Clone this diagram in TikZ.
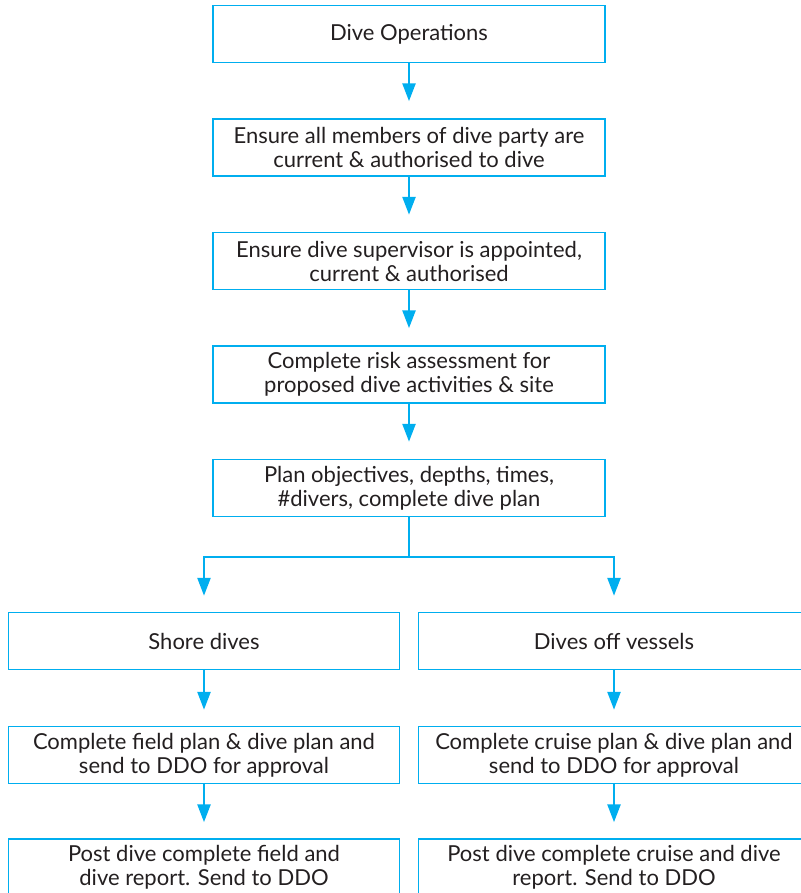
\documentclass[tikz,border=0pt]{standalone}
\usepackage{fontspec}
\setmainfont{Lato}
\usetikzlibrary{arrows.meta}
\definecolor{cyanline}{RGB}{0,174,239}
\definecolor{txt}{RGB}{35,31,32}
\tikzset{
  boxnode/.style={draw=cyanline, line width=1.5bp, rectangle, minimum height=57bp, inner sep=0pt,
    align=center, text=txt, font=\fontsize{22bp}{24bp}\selectfont},
  midbox/.style={boxnode, minimum width=392bp},
  colbox/.style={boxnode, minimum width=391bp},
  arr/.style={draw=cyanline, line width=2.6bp, -{Triangle[length=18bp,width=13bp]}},
  plain/.style={draw=cyanline, line width=2.6bp}
}
\begin{document}
\begin{tikzpicture}[x=1bp,y=-1bp]
\useasboundingbox (0,0) rectangle (801,893);
\clip (0,0) rectangle (801,893);
\node[midbox] (b1) at (409,34) {Dive Operations};
\node[midbox] (b2) at (409,147.5) {Ensure all members of dive party are\\current \& authorised to dive};
\node[midbox] (b3) at (409,261) {Ensure dive supervisor is appointed,\\current \& authorised};
\node[midbox] (b4) at (409,374.5) {Complete risk assessment for\\proposed dive activities \& site};
\node[midbox] (b5) at (409,488) {Plan objectives, depths, times,\\\#divers, complete dive plan};
\node[colbox] (s1) at (204,641) {Shore dives};
\node[colbox] (s2) at (204,755) {Complete field plan \& dive plan and\\send to DDO for approval};
\node[colbox] (s3) at (204,867.5) {Post dive complete field and\\dive report. Send to DDO};
\node[colbox] (v1) at (614,641) {Dives off vessels};
\node[colbox] (v2) at (614,755) {Complete cruise plan \& dive plan and\\send to DDO for approval};
\node[colbox] (v3) at (614,867.5) {Post dive complete cruise and dive\\report. Send to DDO};
\coordinate (j) at (409,557);
\draw[arr, shorten >=17bp] (b1.south) -- (b2.north);
\draw[arr, shorten >=17bp] (b2.south) -- (b3.north);
\draw[arr, shorten >=17bp] (b3.south) -- (b4.north);
\draw[arr, shorten >=17bp] (b4.south) -- (b5.north);
\draw[plain] (b5.south) -- (j);
\draw[arr, shorten >=16bp] (j) -| (s1.north);
\draw[arr, shorten >=16bp] (j) -| (v1.north);
\draw[arr, shorten >=16bp] (s1.south) -- (s2.north);
\draw[arr, shorten >=16bp] (s2.south) -- (s3.north);
\draw[arr, shorten >=16bp] (v1.south) -- (v2.north);
\draw[arr, shorten >=16bp] (v2.south) -- (v3.north);
\end{tikzpicture}
\end{document}
